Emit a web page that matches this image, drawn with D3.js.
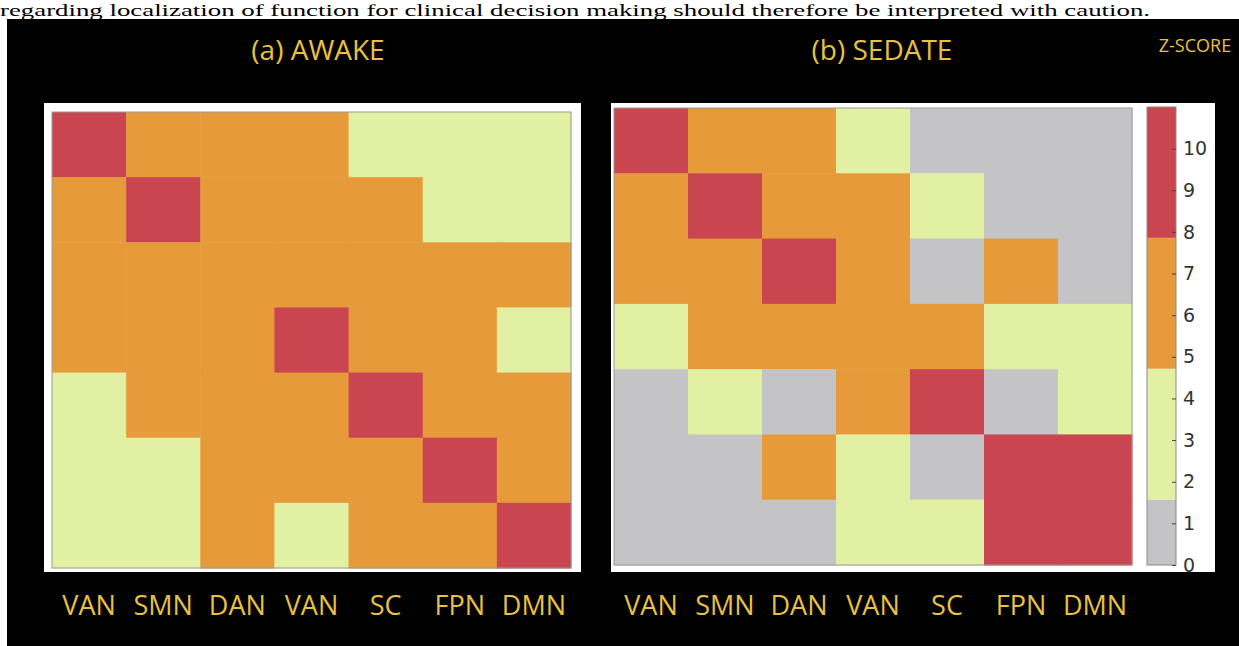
<!DOCTYPE html>
<html>
<head>
<meta charset="utf-8">
<script src="https://cdn.jsdelivr.net/npm/d3@7"></script>
<style>
  html, body { margin: 0; padding: 0; background: #ffffff; }
  svg { display: block; }
</style>
</head>
<body>
<svg id="chart" width="1239" height="646"></svg>
<script>
// ---------- data ----------
const labels = ["VAN", "SMN", "DAN", "VAN", "SC", "FPN", "DMN"];
const panelTitles = ["(a) AWAKE", "(b) SEDATE"];
const colorbarTitle = "Z-SCORE";
const colorbarTicks = [0, 1, 2, 3, 4, 5, 6, 7, 8, 9, 10];
const zMax = 11;
// z-scores, rows top to bottom, columns left to right
const awake = [
  [9.5, 6.3, 6.3, 6.3, 3.2, 3.2, 3.2],
  [6.3, 9.5, 6.3, 6.3, 6.3, 3.2, 3.2],
  [6.3, 6.3, 6.3, 6.3, 6.3, 6.3, 6.3],
  [6.3, 6.3, 6.3, 9.5, 6.3, 6.3, 3.2],
  [3.2, 6.3, 6.3, 6.3, 9.5, 6.3, 6.3],
  [3.2, 3.2, 6.3, 6.3, 6.3, 9.5, 6.3],
  [3.2, 3.2, 6.3, 3.2, 6.3, 6.3, 9.5]
];
const sedate = [
  [9.5, 6.3, 6.3, 3.2, 0.8, 0.8, 0.8],
  [6.3, 9.5, 6.3, 6.3, 3.2, 0.8, 0.8],
  [6.3, 6.3, 9.5, 6.3, 0.8, 6.3, 0.8],
  [3.2, 6.3, 6.3, 6.3, 6.3, 3.2, 3.2],
  [0.8, 3.2, 0.8, 6.3, 9.5, 0.8, 3.2],
  [0.8, 0.8, 6.3, 3.2, 0.8, 9.5, 9.5],
  [0.8, 0.8, 0.8, 3.2, 3.2, 9.5, 9.5]
];
const binEdges = [zMax / 7, 3 * zMax / 7, 5 * zMax / 7];
const binColors = ["#c4c4c6", "#e2f0a4", "#e69a3a", "#c9454f"];
const topText = "regarding localization of function for clinical decision making should therefore be interpreted with caution.";

// ---------- drawing ----------
const svg = d3.select("#chart");
const color = d3.scaleThreshold().domain(binEdges).range(binColors);
const gold = "#e9c140";
const labelFont = "'Open Sans', 'Noto Sans', sans-serif";

// top page text
svg.append("text")
  .attr("x", 0).attr("y", 15.5)
  .attr("font-family", "'Liberation Serif', 'Times New Roman', serif")
  .attr("font-size", 17)
  .attr("textLength", 1150)
  .attr("lengthAdjust", "spacingAndGlyphs")
  .attr("fill", "#000")
  .text(topText);

// black slide background
svg.append("rect")
  .attr("x", 7).attr("y", 19).attr("width", 1239 - 7).attr("height", 646 - 19)
  .attr("fill", "#000");

const panels = [
  { data: awake, title: panelTitles[0], box: [44, 103, 581, 572], grid: [52, 112, 571, 568], titleX: 318 },
  { data: sedate, title: panelTitles[1], box: [611, 103, 1215, 572], grid: [614, 108, 1132, 565], titleX: 882 }
];

svg.append("clipPath").attr("id", "boxclip")
  .append("rect").attr("x", 611).attr("y", 103).attr("width", 1215 - 611).attr("height", 572 - 103);

panels.forEach((p, pi) => {
  const g = svg.append("g");
  const [bx0, by0, bx1, by1] = p.box;
  const [gx0, gy0, gx1, gy1] = p.grid;
  g.append("rect")
    .attr("x", bx0).attr("y", by0).attr("width", bx1 - bx0).attr("height", by1 - by0)
    .attr("fill", "#ffffff");

  const x = d3.scaleBand().domain(d3.range(labels.length)).range([gx0, gx1]);
  const y = d3.scaleBand().domain(d3.range(labels.length)).range([gy0, gy1]);

  const cells = [];
  p.data.forEach((row, r) => row.forEach((v, c) => cells.push({ r, c, v })));
  g.selectAll("rect.cell").data(cells).join("rect")
    .attr("class", "cell")
    .attr("x", d => x(d.c)).attr("y", d => y(d.r))
    .attr("width", x.bandwidth() + 0.5).attr("height", y.bandwidth() + 0.5)
    .attr("fill", d => color(d.v));

  g.append("rect")
    .attr("x", gx0).attr("y", gy0).attr("width", gx1 - gx0).attr("height", gy1 - gy0)
    .attr("fill", "none").attr("stroke", "#9a9a9a").attr("stroke-width", 1);

  // title
  svg.append("text")
    .attr("x", p.titleX).attr("y", 60)
    .attr("text-anchor", "middle")
    .attr("font-family", labelFont)
    .attr("font-size", 28)
    .attr("fill", gold)
    .text(p.title);

  // bottom labels
  svg.append("g").selectAll("text").data(labels).join("text")
    .attr("x", (d, i) => x(i) + x.bandwidth() / 2)
    .attr("y", 615)
    .attr("text-anchor", "middle")
    .attr("font-family", labelFont)
    .attr("font-size", 27)
    .attr("fill", gold)
    .text(d => d);

  if (pi === 1) {
    // colorbar
    const cb = { x0: 1147, x1: 1176, y0: 107, y1: 565 };
    const cy = d3.scaleLinear().domain([0, zMax]).range([cb.y1, cb.y0]);
    const bins = [0, ...binEdges, zMax];
    const segs = d3.range(binColors.length).map(i => ({ lo: bins[i], hi: bins[i + 1], c: binColors[i] }));
    g.selectAll("rect.seg").data(segs).join("rect")
      .attr("class", "seg")
      .attr("x", cb.x0).attr("width", cb.x1 - cb.x0)
      .attr("y", d => cy(d.hi)).attr("height", d => cy(d.lo) - cy(d.hi))
      .attr("fill", d => d.c);
    g.append("rect")
      .attr("x", cb.x0).attr("y", cb.y0).attr("width", cb.x1 - cb.x0).attr("height", cb.y1 - cb.y0)
      .attr("fill", "none").attr("stroke", "#8a8a8a").attr("stroke-width", 1);

    const axis = d3.axisRight(cy).tickValues(colorbarTicks).tickSize(-4).tickPadding(7).tickFormat(d3.format("d"));
    const wrapper = g.append("g").attr("clip-path", "url(#boxclip)");
    const ag = wrapper.append("g")
      .attr("transform", `translate(${cb.x1},0)`)
      .call(axis);
    ag.select(".domain").remove();
    ag.selectAll(".tick line").attr("stroke", "#444");
    ag.selectAll(".tick text")
      .attr("font-family", "'DejaVu Sans', sans-serif")
      .attr("font-size", 19)
      .attr("fill", "#333");

    svg.append("text")
      .attr("x", 1195).attr("y", 52)
      .attr("text-anchor", "middle")
      .attr("font-family", labelFont)
      .attr("font-size", 18)
      .attr("fill", gold)
      .text(colorbarTitle);
  }
});
</script>
</body>
</html>
